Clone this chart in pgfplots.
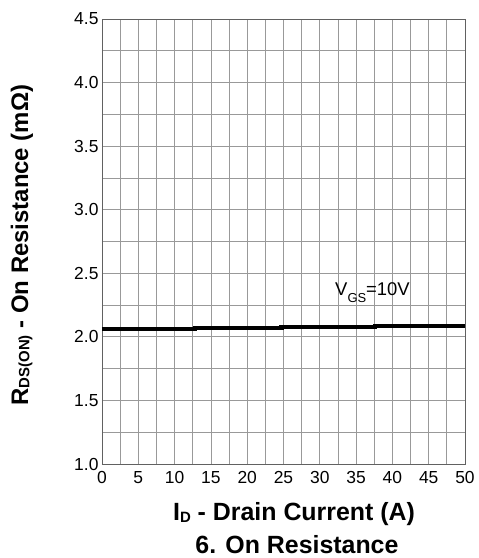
\documentclass[border=0pt]{standalone}
\usepackage{fontspec}
\setmainfont{Liberation Sans}
\usepackage{pgfplots}
\pgfplotsset{compat=1.18}
\begin{document}
\begin{tikzpicture}
\begin{axis}[
  name=ax,
  scale only axis,
  width=363bp, height=445bp,
  xmin=0, xmax=50, ymin=1.0, ymax=4.5,
  xtick={0,5,...,50},
  ytick={1.0,1.5,...,4.5},
  minor xtick={2.5,7.5,...,47.5},
  minor ytick={1.25,1.75,...,4.25},
  grid=both,
  major grid style={draw=black!40, line width=0.8pt},
  minor grid style={draw=black!40, line width=0.8pt},
  axis line style={draw=black!62, line width=1pt},
  major tick length=0pt, minor tick length=0pt,
  /pgf/number format/assume math mode=true,
  yticklabel style={font=\fontsize{17.5}{20}\selectfont, /pgf/number format/fixed, /pgf/number format/fixed zerofill, /pgf/number format/precision=1},
  xticklabel style={font=\fontsize{17.5}{20}\selectfont, yshift=-4bp},
  xlabel={\bfseries I\raisebox{-0.05em}{\fontsize{15}{15}\selectfont D} - Drain Current (A)},
  ylabel={\bfseries R\raisebox{-0.05em}{\fontsize{15}{15}\selectfont DS(ON)} - On Resistance (mΩ)},
  xlabel style={font=\fontsize{25}{28}\selectfont, at={(axis description cs:0.529,-0.1135)}, anchor=center},
  ylabel style={font=\fontsize{24}{27}\selectfont, at={(axis description cs:-0.2204,0.492)}, anchor=center},
  clip=false,
]
\addplot[const plot, black, line width=4.5pt] coordinates {
  (0,2.060) (12.8,2.068) (24.7,2.076) (37.6,2.086) (50,2.086)
};
\node[font=\fontsize{18.5}{20}\selectfont] at (axis cs:37.26,2.35) {V\raisebox{-7bp}{\fontsize{13}{13}\selectfont GS}=10V};
\node[font=\fontsize{25}{28}\selectfont\bfseries] at (axis description cs:0.537,-0.18) {6. On Resistance};
\end{axis}
\path[use as bounding box] ([xshift=-102bp,yshift=-94bp]ax.south west) rectangle ([xshift=14bp,yshift=19bp]ax.north east);
\end{tikzpicture}
\end{document}
